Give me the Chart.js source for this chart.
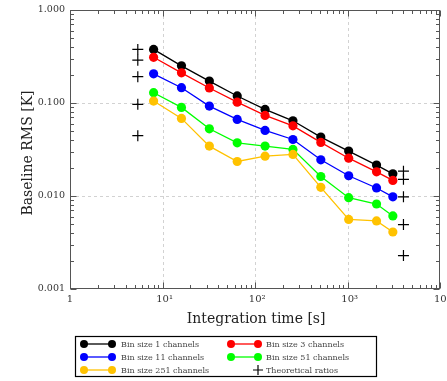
<!DOCTYPE html>
<html>
<head>
<meta charset="utf-8">
<script src="https://cdn.jsdelivr.net/npm/chart.js@4"></script>
<style>
  html, body { margin: 0; padding: 0; background: #fff; }
  #wrap { width: 447px; height: 381px; position: relative; }
</style>
</head>
<body>
<div id="wrap"><canvas id="rms-chart"></canvas></div>
<script>
// integration times in seconds
const intTime = [8, 16, 32, 64, 128, 256, 512, 1024, 2048, 3072];

// baseline RMS [K] per bin size
const rmsBin1   = [0.377, 0.251, 0.172, 0.119, 0.0853, 0.0644, 0.043, 0.0304, 0.0215, 0.0173];
const rmsBin3   = [0.310, 0.211, 0.145, 0.102, 0.0735, 0.0568, 0.0377, 0.0255, 0.0182, 0.0147];
const rmsBin11  = [0.206, 0.146, 0.0926, 0.0666, 0.0507, 0.0405, 0.0245, 0.0165, 0.0122, 0.0098];
const rmsBin51  = [0.129, 0.0897, 0.0528, 0.0373, 0.0344, 0.0317, 0.0162, 0.0096, 0.0082, 0.0061];
const rmsBin251 = [0.105, 0.0683, 0.0344, 0.0235, 0.0268, 0.028, 0.0124, 0.0056, 0.0054, 0.0041];

// theoretical ratios, shown at both ends of the time range
const theoTimes = [5.4, 4000];
const theoStart = [0.377, 0.289, 0.192, 0.0967, 0.0445];
const theoEnd   = [0.0185, 0.0151, 0.0098, 0.00493, 0.00229];

const xTicks = [1, 10, 100, 1000, 10000];
const xTickLabels = ['1', '10\u00B9', '10\u00B2', '10\u00B3', '10\u2074'];
const yTicks = [0.001, 0.01, 0.1, 1];
const yTickLabels = ['0.001', '0.010', '0.100', '1.000'];

const seriesNames = ['Bin size 1 channels', 'Bin size 3 channels', 'Bin size 11 channels',
  'Bin size 51 channels', 'Bin size 251 channels'];
const seriesValues = [rmsBin1, rmsBin3, rmsBin11, rmsBin51, rmsBin251];
const seriesColors = ['#000000', '#ff0000', '#0000ff', '#00ff00', '#ffc200'];

const SERIF = '"DejaVu Serif", "Liberation Serif", serif';

const datasets = seriesValues.map((vals, i) => ({
  label: seriesNames[i],
  data: intTime.map((t, j) => ({ x: t, y: vals[j] })),
  showLine: true,
  borderColor: seriesColors[i],
  backgroundColor: seriesColors[i],
  borderWidth: 1.3,
  pointRadius: 4.6,
  pointBorderWidth: 0,
  order: 10 - i
}));

const theoPoints = [];
theoStart.forEach(v => theoPoints.push({ x: theoTimes[0], y: v }));
theoEnd.forEach(v => theoPoints.push({ x: theoTimes[1], y: v }));
datasets.push({
  label: 'Theoretical ratios',
  data: theoPoints,
  showLine: false,
  pointStyle: 'cross',
  pointRadius: 5.5,
  borderColor: '#000',
  borderWidth: 1.2,
  order: 0
});

function logTicks(min, max) {
  const major = [], minor = [];
  for (let e = Math.round(Math.log10(min)); e < Math.round(Math.log10(max)); e++) {
    const base = Math.pow(10, e);
    major.push(base);
    for (let m = 2; m <= 9; m++) minor.push(m * base);
  }
  major.push(max);
  return { major, minor };
}

// grid, frame, inward ticks, tick labels, axis titles and legend
const framePlugin = {
  id: 'frame',
  beforeDatasetsDraw(chart) {
    const { ctx, chartArea: a, scales: { x, y } } = chart;
    ctx.save();
    ctx.strokeStyle = '#d2d2d2';
    ctx.lineWidth = 1;
    ctx.setLineDash([3, 3]);
    xTicks.slice(1, -1).forEach(v => {
      const px = Math.round(x.getPixelForValue(v)) + 0.5;
      ctx.beginPath(); ctx.moveTo(px, a.top); ctx.lineTo(px, a.bottom); ctx.stroke();
    });
    yTicks.slice(1, -1).forEach(v => {
      const py = Math.round(y.getPixelForValue(v)) + 0.5;
      ctx.beginPath(); ctx.moveTo(a.left, py); ctx.lineTo(a.right, py); ctx.stroke();
    });
    ctx.restore();
  },
  afterDraw(chart) {
    const { ctx, chartArea: a, scales: { x, y } } = chart;
    ctx.save();
    ctx.strokeStyle = '#555';
    ctx.lineWidth = 1;
    const L = Math.round(a.left) + 0.5, R = Math.round(a.right) - 0.5;
    const T = Math.round(a.top) + 0.5, B = Math.round(a.bottom) - 0.5;
    ctx.strokeRect(L, T, R - L, B - T);

    const xt = logTicks(1, 10000), yt = logTicks(0.001, 1);
    ctx.beginPath();
    const xMark = (v, len) => {
      const px = Math.round(x.getPixelForValue(v)) + 0.5;
      ctx.moveTo(px, B); ctx.lineTo(px, B - len);
      ctx.moveTo(px, T); ctx.lineTo(px, T + len);
    };
    const yMark = (v, len) => {
      const py = Math.round(y.getPixelForValue(v)) + 0.5;
      ctx.moveTo(L, py); ctx.lineTo(L + len, py);
      ctx.moveTo(R, py); ctx.lineTo(R - len, py);
    };
    xt.major.forEach(v => xMark(v, 6));
    xt.minor.forEach(v => xMark(v, 3.5));
    yt.major.forEach(v => yMark(v, 6));
    yt.minor.forEach(v => yMark(v, 3.5));
    ctx.stroke();

    // tick labels
    ctx.fillStyle = '#333';
    ctx.font = '10px ' + SERIF;
    ctx.textAlign = 'center';
    ctx.textBaseline = 'top';
    xTicks.forEach((v, i) => {
      ctx.fillText(xTickLabels[i], x.getPixelForValue(v) + (i ? 2 : 0), a.bottom + 5);
    });
    ctx.font = '9.5px ' + SERIF;
    ctx.textAlign = 'right';
    ctx.textBaseline = 'middle';
    yTicks.forEach((v, i) => {
      ctx.fillText(yTickLabels[i], a.left - 5, y.getPixelForValue(v));
    });

    // axis titles
    ctx.font = '14px ' + SERIF;
    ctx.fillStyle = '#222';
    ctx.textAlign = 'center';
    ctx.textBaseline = 'middle';
    ctx.fillText('Integration time [s]', (a.left + a.right) / 2 + 1, 319);
    ctx.save();
    ctx.translate(28, 153);
    ctx.rotate(-Math.PI / 2);
    ctx.fillText('Baseline RMS [K]', 0, 0);
    ctx.restore();

    // legend
    ctx.strokeStyle = '#000';
    ctx.lineWidth = 1.2;
    ctx.strokeRect(75.5, 336.5, 301, 40);
    const rows = [344, 357, 370];
    const cols = [{ m0: 84, m1: 112, tx: 121 }, { m0: 231, m1: 258, tx: 266 }];
    ctx.font = '8px ' + SERIF;
    ctx.textAlign = 'left';
    chart.data.datasets.forEach((ds, i) => {
      const c = cols[i % 2], ry = rows[Math.floor(i / 2)];
      if (ds.showLine) {
        ctx.strokeStyle = ds.borderColor;
        ctx.lineWidth = 1.3;
        ctx.beginPath(); ctx.moveTo(c.m0, ry); ctx.lineTo(c.m1, ry); ctx.stroke();
        ctx.fillStyle = ds.backgroundColor;
        [c.m0, c.m1].forEach(mx => {
          ctx.beginPath(); ctx.arc(mx, ry, 4, 0, Math.PI * 2); ctx.fill();
        });
      } else {
        ctx.strokeStyle = '#000';
        ctx.lineWidth = 1.2;
        ctx.beginPath();
        ctx.moveTo(c.m1 - 5, ry); ctx.lineTo(c.m1 + 5, ry);
        ctx.moveTo(c.m1, ry - 5); ctx.lineTo(c.m1, ry + 5);
        ctx.stroke();
      }
      ctx.fillStyle = '#444';
      ctx.fillText(ds.label, c.tx, ry + 0.5);
    });
    ctx.restore();
  }
};

new Chart(document.getElementById('rms-chart'), {
  type: 'scatter',
  data: { datasets },
  options: {
    responsive: true,
    maintainAspectRatio: false,
    animation: false,
    layout: { padding: { left: 70, right: 6, top: 10, bottom: 92 } },
    plugins: { legend: { display: false }, tooltip: { enabled: false } },
    scales: {
      // axes are laid out but drawn by the frame plugin
      x: { type: 'logarithmic', min: 1, max: 10000, display: false },
      y: { type: 'logarithmic', min: 0.001, max: 1, display: false }
    }
  },
  plugins: [framePlugin]
});
</script>
</body>
</html>
